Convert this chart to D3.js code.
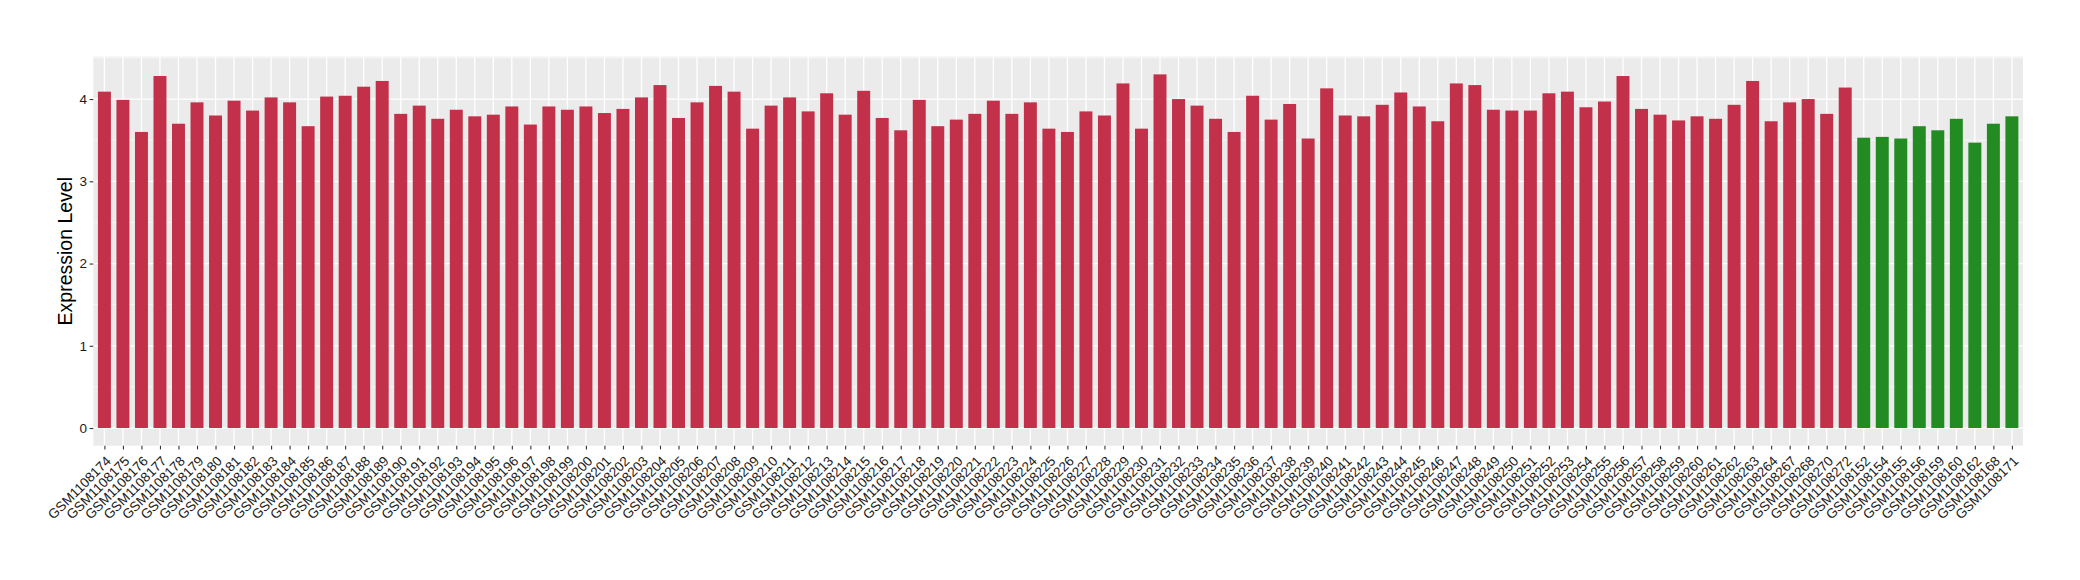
<!DOCTYPE html>
<html>
<head>
<meta charset="utf-8">
<script src="https://cdn.jsdelivr.net/npm/d3@7"></script>
<style>
  html, body { margin: 0; padding: 0; background: #ffffff; }
  svg { display: block; }
</style>
</head>
<body>
<svg id="chart" width="2080" height="580"></svg>
<script>
// ---- data ----
const tumorSamples = [
  "GSM1108174","GSM1108175","GSM1108176","GSM1108177","GSM1108178","GSM1108179","GSM1108180","GSM1108181",
  "GSM1108182","GSM1108183","GSM1108184","GSM1108185","GSM1108186","GSM1108187","GSM1108188","GSM1108189",
  "GSM1108190","GSM1108191","GSM1108192","GSM1108193","GSM1108194","GSM1108195","GSM1108196","GSM1108197",
  "GSM1108198","GSM1108199","GSM1108200","GSM1108201","GSM1108202","GSM1108203","GSM1108204","GSM1108205",
  "GSM1108206","GSM1108207","GSM1108208","GSM1108209","GSM1108210","GSM1108211","GSM1108212","GSM1108213",
  "GSM1108214","GSM1108215","GSM1108216","GSM1108217","GSM1108218","GSM1108219","GSM1108220","GSM1108221",
  "GSM1108222","GSM1108223","GSM1108224","GSM1108225","GSM1108226","GSM1108227","GSM1108228","GSM1108229",
  "GSM1108230","GSM1108231","GSM1108232","GSM1108233","GSM1108234","GSM1108235","GSM1108236","GSM1108237",
  "GSM1108238","GSM1108239","GSM1108240","GSM1108241","GSM1108242","GSM1108243","GSM1108244","GSM1108245",
  "GSM1108246","GSM1108247","GSM1108248","GSM1108249","GSM1108250","GSM1108251","GSM1108252","GSM1108253",
  "GSM1108254","GSM1108255","GSM1108256","GSM1108257","GSM1108258","GSM1108259","GSM1108260","GSM1108261",
  "GSM1108262","GSM1108263","GSM1108264","GSM1108267","GSM1108268","GSM1108270","GSM1108272"
];
const tumorValues = [
  4.09,3.99,3.60,4.28,3.70,3.96,3.80,3.98,
  3.86,4.02,3.96,3.67,4.03,4.04,4.15,4.22,
  3.82,3.92,3.76,3.87,3.79,3.81,3.91,3.69,
  3.91,3.87,3.91,3.83,3.88,4.02,4.17,3.77,
  3.96,4.16,4.09,3.64,3.92,4.02,3.85,4.07,
  3.81,4.10,3.77,3.62,3.99,3.67,3.75,3.82,
  3.98,3.82,3.96,3.64,3.60,3.85,3.80,4.19,
  3.64,4.30,4.00,3.92,3.76,3.60,4.04,3.75,
  3.94,3.52,4.13,3.80,3.79,3.93,4.08,3.91,
  3.73,4.19,4.17,3.87,3.86,3.86,4.07,4.09,
  3.90,3.97,4.28,3.88,3.81,3.74,3.79,3.76,
  3.93,4.22,3.73,3.96,4.00,3.82,4.14
];
const normalSamples = [
  "GSM1108152","GSM1108154","GSM1108155","GSM1108156","GSM1108159","GSM1108160","GSM1108162","GSM1108168","GSM1108171"
];
const normalValues = [3.53,3.54,3.52,3.67,3.62,3.76,3.47,3.70,3.79];
const yTicks = [0, 1, 2, 3, 4];
const yLabel = "Expression Level";
const tumorColor = "#C3304A";
const normalColor = "#228B22";

// ---- build ----
const rows = tumorSamples.map((s, i) => ({ sample: s, value: tumorValues[i], group: "tumor" }))
  .concat(normalSamples.map((s, i) => ({ sample: s, value: normalValues[i], group: "normal" })));

const svg = d3.select("#chart");
const panel = { left: 93.3, right: 2023, top: 56.7, bottom: 445.7 };
const font = "'Liberation Sans', Arial, Helvetica, sans-serif";

const x = d3.scalePoint()
  .domain(rows.map(d => d.sample))
  .range([panel.left, panel.right])
  .padding(0.6);
const step = x.step();
const barW = step * 0.7;

const maxV = d3.max(rows, d => d.value);
const y = d3.scaleLinear()
  .domain([-0.05 * maxV, maxV * 1.05])
  .range([panel.bottom, panel.top]);

// panel background
svg.append("rect")
  .attr("x", panel.left).attr("y", panel.top)
  .attr("width", panel.right - panel.left)
  .attr("height", panel.bottom - panel.top)
  .attr("fill", "#EBEBEB");

// minor y grid
const minor = d3.range(0.5, y.domain()[1], 1);
svg.append("g").selectAll("line").data(minor).join("line")
  .attr("x1", panel.left).attr("x2", panel.right)
  .attr("y1", d => y(d)).attr("y2", d => y(d))
  .attr("stroke", "#ffffff").attr("stroke-width", 0.6);

// major y grid
svg.append("g").selectAll("line").data(yTicks).join("line")
  .attr("x1", panel.left).attr("x2", panel.right)
  .attr("y1", d => y(d)).attr("y2", d => y(d))
  .attr("stroke", "#ffffff").attr("stroke-width", 1.3);

// vertical grid
svg.append("g").selectAll("line").data(rows).join("line")
  .attr("x1", d => x(d.sample)).attr("x2", d => x(d.sample))
  .attr("y1", panel.top).attr("y2", panel.bottom)
  .attr("stroke", "#ffffff").attr("stroke-width", 1.3);

// bars
svg.append("g").selectAll("rect").data(rows).join("rect")
  .attr("x", d => x(d.sample) - barW / 2)
  .attr("width", barW)
  .attr("y", d => y(d.value))
  .attr("height", d => y(0) - y(d.value))
  .attr("fill", d => d.group === "tumor" ? tumorColor : normalColor);

// y axis
const yAxis = d3.axisLeft(y).tickValues(yTicks).tickSize(3.7).tickPadding(2.5).tickFormat(d3.format("d"));
const gy = svg.append("g").attr("transform", `translate(${panel.left},0)`).call(yAxis);
gy.select(".domain").remove();
gy.selectAll(".tick line").attr("stroke", "#333333").attr("stroke-width", 1.1);
gy.selectAll(".tick text")
  .attr("fill", "#1a1a1a")
  .style("font-family", font)
  .style("font-size", "13.5px");

// x axis
const xAxis = d3.axisBottom(x).tickSize(3.7).tickPadding(0);
const gx = svg.append("g").attr("transform", `translate(0,${panel.bottom})`).call(xAxis);
gx.select(".domain").remove();
gx.selectAll(".tick line").attr("stroke", "#333333").attr("stroke-width", 1.1);
gx.selectAll(".tick text")
  .attr("fill", "#1a1a1a")
  .style("font-family", font)
  .style("font-size", "13.5px")
  .attr("text-anchor", "end")
  .attr("x", 0).attr("y", 0)
  .attr("dy", "0.72em")
  .attr("transform", "translate(0,9.3) rotate(-45)");

// y title
svg.append("text")
  .attr("transform", `translate(65,${(panel.top + panel.bottom) / 2}) rotate(-90)`)
  .attr("text-anchor", "middle")
  .attr("dy", "0.35em")
  .style("font-family", font)
  .style("font-size", "19.5px")
  .attr("fill", "#000000")
  .text(yLabel);
</script>
</body>
</html>
